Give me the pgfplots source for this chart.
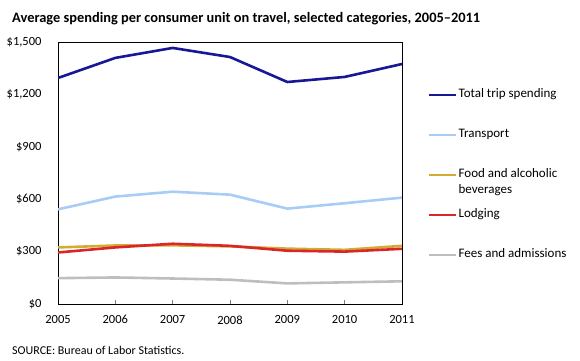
\documentclass[border=0pt]{standalone}
\usepackage{pgfplots}
\pgfplotsset{compat=1.18}
\usepackage{fontspec}
\setmainfont{Carlito}
\definecolor{ctotal}{RGB}{24,24,150}
\definecolor{ctrans}{RGB}{168,204,245}
\definecolor{cfood}{RGB}{210,172,50}
\definecolor{clodg}{RGB}{218,38,40}
\definecolor{cfees}{RGB}{190,190,190}
\begin{document}
\begin{tikzpicture}
\path[use as bounding box] (0pt,0pt) rectangle (580pt,360pt);
\node[anchor=base west, inner sep=0pt, font=\fontsize{14.4}{16}\selectfont\bfseries] at (12pt,338pt) {Average spending per consumer unit on travel, selected categories, 2005--2011};
\node[anchor=base west, inner sep=0pt, font=\fontsize{12}{14}\selectfont] at (12pt,6pt) {SOURCE: Bureau of Labor Statistics.};
\begin{axis}[
  at={(58pt,56pt)}, anchor=south west,
  scale only axis, width=344pt, height=262pt,
  xmin=2005, xmax=2011, ymin=0, ymax=1500,
  xtick={2005,...,2011}, ytick={0,300,...,1500},
  axis line style={black, line width=0.6pt},
  xtick pos=bottom, ytick pos=left,
  tick align=inside, major tick length=4pt,
  ytick style={draw=none},
  xtick style={gray, line width=0.5pt},
  xticklabel style={font=\fontsize{12.5}{14}\selectfont},
  yticklabel style={font=\fontsize{12.5}{14}\selectfont},
  /pgf/number format/assume math mode=true,
  yticklabel={\$\pgfmathprintnumber[1000 sep={,}]{\tick}},
  xticklabel={\pgfmathprintnumber[1000 sep={}]{\tick}},
  xticklabel shift=8pt, yticklabel shift=13pt,
  every axis plot/.append style={line width=2.6pt, line join=round},
  legend cell align=left,
  legend image code/.code={\draw[#1, line width=2.4pt] (0pt,0pt) -- (27pt,0pt);},
  legend style={at={(axis description cs:1.0756,0.82)}, anchor=north west,
    draw=none, fill=none, inner sep=0pt, row sep=29pt, column sep=1pt,
    nodes={inner sep=0pt, text height=8pt, text depth=3pt, font=\fontsize{13}{16}\selectfont}},
]
\addplot[ctotal] coordinates {(2005,1294) (2006,1409) (2007,1466) (2008,1414) (2009,1271) (2010,1300) (2011,1374)};
\addlegendentry{Total trip spending}
\addplot[ctrans] coordinates {(2005,542) (2006,615) (2007,643) (2008,626) (2009,546) (2010,577) (2011,609)};
\addlegendentry{Transport}
\addplot[cfood] coordinates {(2005,324) (2006,335) (2007,336) (2008,330) (2009,317) (2010,310) (2011,333)};
\addlegendentry{\begin{tabular}[t]{@{}l@{}}Food and alcoholic\\beverages\end{tabular}}
\addplot[clodg] coordinates {(2005,295) (2006,324) (2007,345) (2008,333) (2009,305) (2010,300) (2011,316)};
\addlegendentry{Lodging}
\addplot[cfees] coordinates {(2005,148) (2006,152) (2007,146) (2008,139) (2009,118) (2010,124) (2011,130)};
\addlegendentry{Fees and admissions}
\end{axis}
\end{tikzpicture}
\end{document}
